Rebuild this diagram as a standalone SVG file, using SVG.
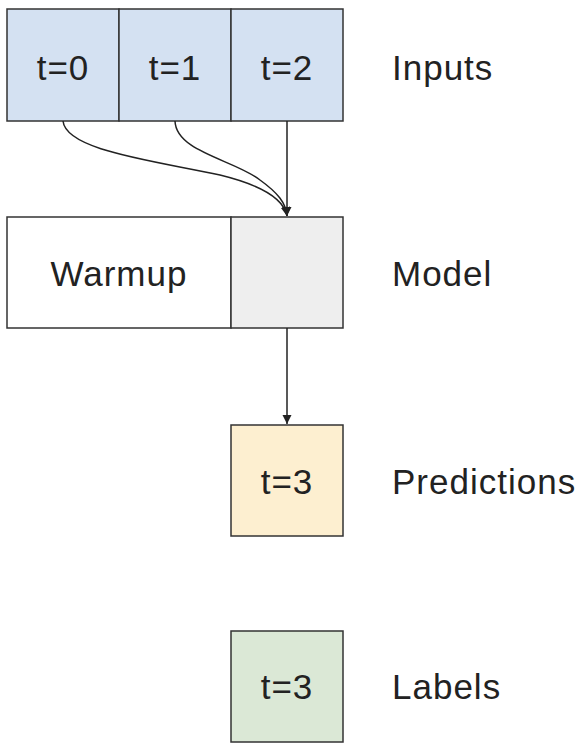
<svg xmlns="http://www.w3.org/2000/svg" width="582" height="754" viewBox="0 0 582 754">
<style>
.box{stroke:#333;stroke-width:1.5}
.t{font-family:"Liberation Sans",Arial,sans-serif;font-size:35px;letter-spacing:1px;fill:#222}
.c{text-anchor:middle}
.conn{fill:none;stroke:#222;stroke-width:1.5}
</style>
<defs>
<marker id="ah" markerWidth="10" markerHeight="10" refX="9" refY="5" orient="auto" markerUnits="userSpaceOnUse">
<path d="M0,0.5 L9,5 L0,9.5 z" fill="#222"/>
</marker>
</defs>
<rect width="582" height="754" fill="#fff"/>
<g id="inputs">
<rect class="box" x="7" y="9" width="112" height="112" fill="#d4e1f2"/>
<rect class="box" x="119" y="9" width="112" height="112" fill="#d4e1f2"/>
<rect class="box" x="231" y="9" width="112" height="112" fill="#d4e1f2"/>
<text class="t c" x="63" y="80">t=0</text>
<text class="t c" x="175" y="80">t=1</text>
<text class="t c" x="287" y="80">t=2</text>
<text class="t" x="392" y="80">Inputs</text>
</g>
<g id="model">
<rect class="box" x="7" y="217" width="224" height="111" fill="#fff"/>
<rect class="box" x="231" y="217" width="112" height="111" fill="#eeeeee"/>
<text class="t c" x="119" y="286">Warmup</text>
<text class="t" x="392" y="286">Model</text>
</g>
<g id="predictions">
<rect class="box" x="231" y="425" width="112" height="111" fill="#fdefd0"/>
<text class="t c" x="287" y="494">t=3</text>
<text class="t" x="392" y="494">Predictions</text>
</g>
<g id="labels">
<rect class="box" x="231" y="631" width="112" height="111" fill="#dbe8d6"/>
<text class="t c" x="287" y="699">t=3</text>
<text class="t" x="392" y="699">Labels</text>
</g>
<g id="connectors">
<path class="conn" d="M63,121 C66,150 150,160 220,175 C265,186 284,200 287,216" marker-end="url(#ah)"/>
<path class="conn" d="M175,121 C176,152 235,160 260,180 C278,193 286,203 287,216" marker-end="url(#ah)"/>
<path class="conn" d="M287,121 L287,216" marker-end="url(#ah)"/>
<path class="conn" d="M287,328 L287,424" marker-end="url(#ah)"/>
</g>
</svg>
